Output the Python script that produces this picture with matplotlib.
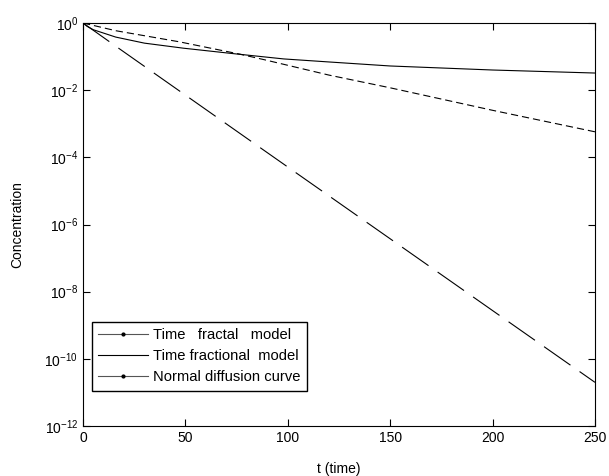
import numpy as np
import matplotlib.pyplot as plt
from matplotlib.lines import Line2D

plt.rcParams['font.family'] = ['Liberation Sans', 'DejaVu Sans']
plt.rcParams['mathtext.fontset'] = 'custom'
plt.rcParams['mathtext.rm'] = 'Liberation Sans'

# values (log10 of concentration)
t_fractal = [0, 16, 47, 76, 89, 120, 150, 200, 250]
log_fractal = [0, -0.23, -0.56, -0.92, -1.1, -1.55, -1.93, -2.6, -3.24]

t_fractional = [0, 2, 5, 10, 16, 30, 49, 73, 98, 120, 150, 200, 250]
log_fractional = [0, -0.1, -0.2, -0.3, -0.42, -0.6, -0.75, -0.91, -1.07, -1.16, -1.28, -1.40, -1.49]

t_normal = [0, 17.6, 87.4, 250]
log_normal = [0, -0.76, -3.75, -10.7]

labels = ['Time   fractal   model', 'Time fractional  model', 'Normal diffusion curve']

fig = plt.figure(figsize=(6.09, 4.76), dpi=100)
ax = fig.add_axes([0.1363, 0.105, 0.8407, 0.8467])

ax.semilogy(t_fractal, 10 ** np.array(log_fractal), color='black', lw=0.8,
            dashes=(6.5, 3.6))
ax.semilogy(t_fractional, 10 ** np.array(log_fractional), color='black', lw=0.8)
ax.semilogy(t_normal, 10 ** np.array(log_normal), color='black', lw=0.8,
            dashes=(29, 10))

ax.set_xlim(0, 250)
ax.set_ylim(1e-12, 1)
ax.set_xticks([0, 50, 100, 150, 200, 250])
ax.set_yticks([10.0 ** k for k in range(0, -13, -2)])
ax.set_yticklabels([r'$10^{%d}$' % k for k in range(0, -13, -2)])
ax.minorticks_off()
ax.tick_params(direction='in', top=True, right=True, length=5, labelsize=10)
ax.set_xlabel('t (time)', fontsize=10)
ax.set_ylabel('Concentration', fontsize=10)
ax.xaxis.set_label_coords(0.5, -0.09)
ax.yaxis.set_label_coords(-0.115, 0.5)

handles = [
    Line2D([], [], color='#555555', lw=0.8, marker='.', markersize=4, markerfacecolor='black', markeredgecolor='black'),
    Line2D([], [], color='black', lw=0.8),
    Line2D([], [], color='#555555', lw=0.8, marker='.', markersize=4, markerfacecolor='black', markeredgecolor='black'),
]
leg = ax.legend(handles, labels, loc='lower left', bbox_to_anchor=(0.017, 0.088),
                fontsize=10.6, fancybox=False, framealpha=1, edgecolor='black',
                handlelength=3.4, borderpad=0.45, labelspacing=0.46, handletextpad=0.3,
                borderaxespad=0)
leg.get_frame().set_linewidth(1.0)

fig.savefig('out.png', dpi=100)
